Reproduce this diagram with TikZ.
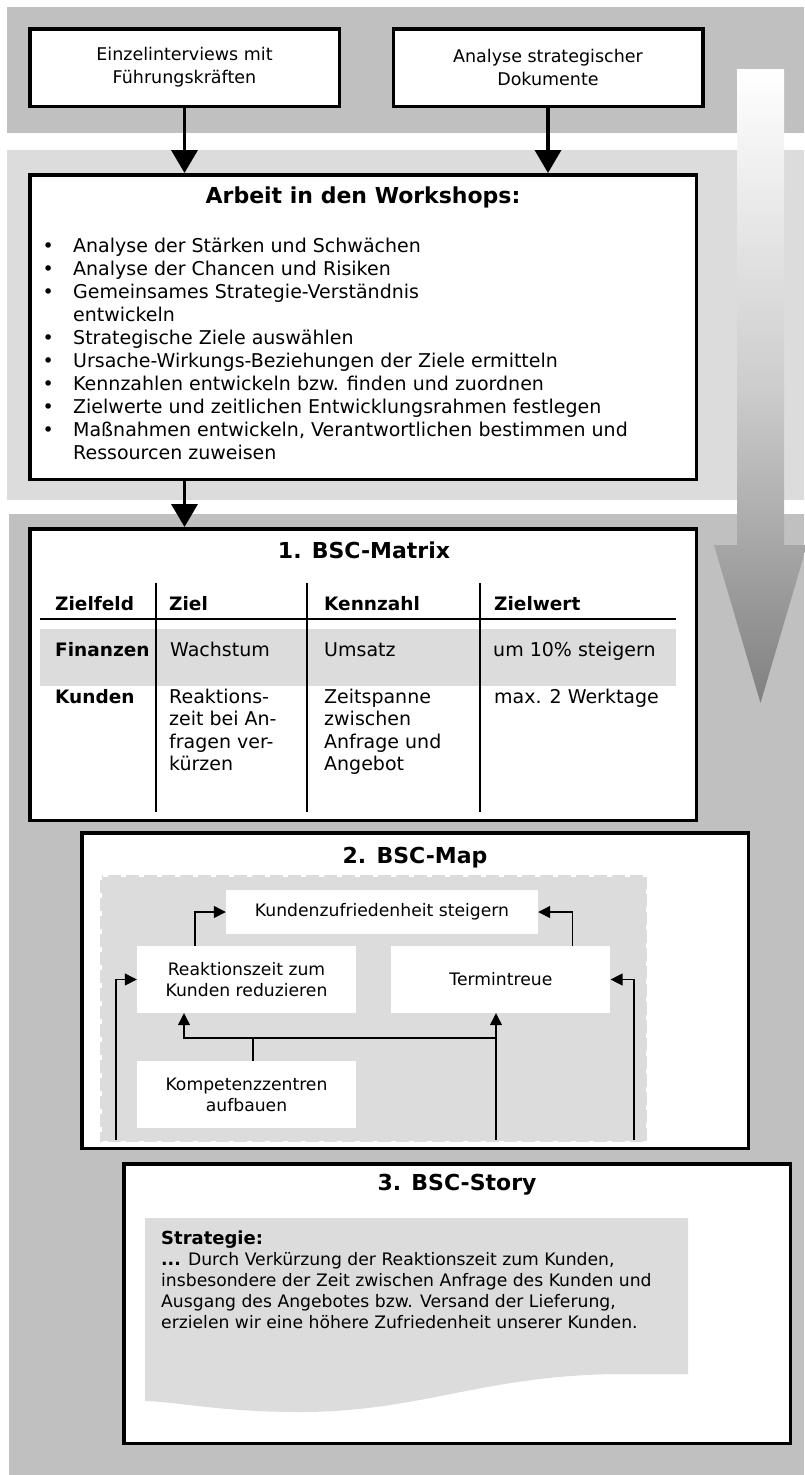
\documentclass[tikz,border=0pt]{standalone}
\usepackage{fontspec}
\setmainfont{DejaVu Sans}
\usepackage{tikz}
\usetikzlibrary{positioning, arrows.meta, calc}
\definecolor{darkband}{RGB}{192,192,192}
\definecolor{lightband}{RGB}{220,220,220}
\definecolor{arrowmid}{RGB}{205,205,205}
\definecolor{tipgray}{RGB}{128,128,128}
\tikzstyle{src}=[%
      rectangle, draw=black, line width=3.5pt, fill=white,
      minimum width=309.5pt, minimum height=77.5pt, inner sep=0pt, align=center,
      font=\fontsize{17.5}{23}\selectfont
]
\tikzstyle{panel}=[%
      rectangle, draw=black, line width=3.5pt, fill=white,
      minimum width=666.5pt, inner sep=0pt
]
\tikzstyle{goal}=[%
      rectangle, fill=white, inner sep=0pt, align=center,
      minimum width=219pt, minimum height=67pt, font=\fontsize{17.2}{21}\selectfont
]
\tikzstyle{heading}=[font=\bfseries\fontsize{22}{26}\selectfont, inner sep=0pt]
\tikzstyle{cell}=[anchor=base west, inner sep=0pt, font=\fontsize{19}{22.5}\selectfont]
\tikzstyle{cellbold}=[cell, font=\bfseries\fontsize{18.5}{22.5}\selectfont]
\tikzstyle{cellbox}=[cell, anchor=north west, align=left]
\tikzstyle{flow}=[-{Triangle[length=23pt,width=26pt]}, line width=3.5pt]
\tikzstyle{link}=[-{Triangle[length=12pt,width=12pt]}, line width=1.3pt]
\begin{document}
\begin{tikzpicture}[x=1pt, y=-1pt]
    \useasboundingbox (0,0) rectangle (804,1475);
    \fill[darkband] (7,7) rectangle (804,133);
    \fill[lightband] (7,150) rectangle (804,500);
    \fill[darkband] (9,514) rectangle (804,1475);
    \shade[top color=white, bottom color=tipgray, middle color=arrowmid]
        (737,69) -- (784,69) -- (784,545) -- (807,545) -- (760.5,703)
        -- (714,545) -- (737,545) -- cycle;

    \node[src] (interviews) at (184.5,67.5) {Einzelinterviews mit\\Führungskräften};
    \node[src, right=50.5pt of interviews] (documents) {Analyse strategischer\\Dokumente};

    \node[panel, minimum height=304.5pt] (workshops) at (363,327) {};
    \node[heading] (wstitle) at (363,197) {Arbeit in den Workshops:};
    \node[anchor=north west, inner sep=0pt, font=\fontsize{19}{23}\selectfont] (wslist) at (42.5,236) {%
      \begin{tabular}{@{}p{30.5pt}@{}l@{}}
      \textbullet & Analyse der Stärken und Schwächen\\
      \textbullet & Analyse der Chancen und Risiken\\
      \textbullet & Gemeinsames Strategie-Verständnis\\
                  & entwickeln\\
      \textbullet & Strategische Ziele auswählen\\
      \textbullet & Ursache-Wirkungs-Beziehungen der Ziele ermitteln\\
      \textbullet & Kennzahlen entwickeln bzw. finden und zuordnen\\
      \textbullet & Zielwerte und zeitlichen Entwicklungsrahmen festlegen\\
      \textbullet & Maßnahmen entwickeln, Verantwortlichen bestimmen und\\
                  & Ressourcen zuweisen
      \end{tabular}};

    \draw[flow] (interviews.south) -- (interviews.south |- workshops.north);
    \draw[flow] (documents.south) -- (documents.south |- workshops.north);

    \node[panel, minimum height=291.5pt] (matrix) at (363,674.5) {};
    \draw[flow] (workshops.south -| interviews.south) -- (interviews.south |- matrix.north);
    \node[heading] (mtitle) at (364,550) {1. BSC-Matrix};
    \fill[lightband] (40,629) rectangle (676,686);
    \draw[line width=1.3pt] (40,619) -- (676,619);
    \foreach \x in {156,307,480}
      \draw[line width=1.3pt] (\x,583) -- (\x,812);
    \node[cellbold] (hfield) at (55,610) {Zielfeld};
    \node[cellbold] (hgoal) at (169,610) {Ziel};
    \node[cellbold] (hkpi) at (324,610) {Kennzahl};
    \node[cellbold] (hvalue) at (494,610) {Zielwert};
    \node[cellbold] (fin) at (55,656) {Finanzen};
    \node[cell] (fingoal) at (170,656) {Wachstum};
    \node[cell] (finkpi) at (324,656) {Umsatz};
    \node[cell] (finvalue) at (493,656) {um 10\% steigern};
    \node[cellbold] (cust) at (55,703) {Kunden};
    \node[cellbox] (custgoal) at (169,688.6) {Reaktions-\\zeit bei An-\\fragen ver-\\kürzen};
    \node[cellbox] (custkpi) at (324,688.6) {Zeitspanne\\zwischen\\Anfrage und\\Angebot};
    \node[cell] (custvalue) at (494,703) {max. 2 Werktage};

    \node[panel, minimum height=315.5pt] (map) at (415,990.5) {};
    \node[heading] (maptitle) at (415,858) {2. BSC-Map};
    \fill[lightband] (100,875) rectangle (647,1142);
    \draw[white, line width=3pt, dash pattern=on 5pt off 13pt] (100,875) rectangle (647,1142);
    \node[goal, minimum width=312pt, minimum height=44pt] (kz) at (382,912) {Kundenzufriedenheit steigern};
    \node[goal] (rz) at (246.5,979.5) {Reaktionszeit zum\\Kunden reduzieren};
    \node[goal, right=35pt of rz] (tt) {Termintreue};
    \node[goal, below=48pt of rz] (kp) {Kompetenzzentren\\aufbauen};
    \coordinate (inL) at (116,1140);
    \coordinate (inR) at (634,1140);
    \coordinate (inM) at (496,1140);
    \coordinate (hub) at (253,1038);
    \draw[link] ([xshift=-51.5pt]rz.north) |- (kz.west);
    \draw[link] ([xshift=71.5pt]tt.north) |- (kz.east);
    \draw[link] (inL) |- (rz.west);
    \draw[link] (inR) |- (tt.east);
    \draw[line width=1.3pt] (kp.north -| hub) -- (hub) -- (hub -| inM);
    \draw[link] (hub) -| ([xshift=-62.5pt]rz.south);
    \draw[link] (inM) -- (inM |- tt.south);

    \node[panel, minimum height=279.5pt] (story) at (457,1303.5) {};
    \node[heading] (storytitle) at (457,1185) {3. BSC-Story};
    \fill[lightband] (145,1218) -- (688,1218) -- (688,1374) -- (616,1374)
        .. controls (480,1376) and (420,1412) .. (300,1412)
        .. controls (220,1412) and (180,1402) .. (145,1401) -- cycle;
    \node[anchor=north west, inner sep=0pt, align=left, font=\fontsize{17.2}{21}\selectfont] (storytext) at (161,1231) {%
      {\bfseries\fontsize{18}{21}\selectfont Strategie:}\\
      \textbf{...} Durch Verkürzung der Reaktionszeit zum Kunden,\\
      insbesondere der Zeit zwischen Anfrage des Kunden und\\
      Ausgang des Angebotes bzw. Versand der Lieferung,\\
      erzielen wir eine höhere Zufriedenheit unserer Kunden.};
\end{tikzpicture}
\end{document}
